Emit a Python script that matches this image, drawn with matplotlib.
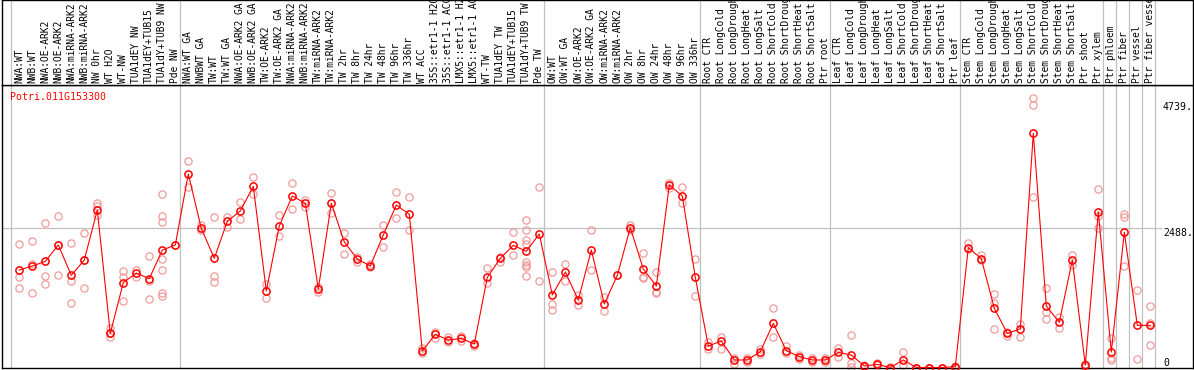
import matplotlib
matplotlib.use("Agg")
import matplotlib.pyplot as plt

gene_id = "Potri.011G153300"

labels = [
    "NWA:WT", "NWB:WT", "NWA:OE-ARK2", "NWB:OE-ARK2", "NWA:miRNA-ARK2", "NWB:miRNA-ARK2",
    "NW 0hr", "WT H2O", "WT-NW", "TUA1dEY NW", "TUA1dEY+TUB15", "TUA1dY+TUB9 NW", "Pde NW",
    "NWA:WT GA", "NWBWT GA", "TW:WT", "TW:WT GA", "NWA:OE-ARK2 GA", "NWB:OE-ARK2 GA",
    "TW:OE-ARK2", "TW:OE-ARK2 GA", "NWA:miRNA-ARK2 GA", "NWB:miRNA-ARK2 GA", "TW:miRNA-ARK2",
    "TW:miRNA-ARK2", "TW 2hr", "TW 8hr", "TW 24hr", "TW 48hr", "TW 96hr", "TW 336hr", "WT ACC",
    "35S::etr1-1 H2O", "35S::etr1-1 ACC", "LMX5::etr1-1 H2O", "LMX5::etr1-1 ACC", "WT-TW",
    "TUA1dEY TW", "TUA1dEY+TUB15", "TUA1dY+TUB9 TW", "Pde TW",
    "OW:WT", "OW:WT GA", "OW:OE-ARK2", "OW:OE-ARK2 GA", "OW:miRNA-ARK2", "OW:miRNA-ARK2",
    "OW 2hr", "OW 8hr", "OW 24hr", "OW 48hr", "OW 96hr", "OW 336hr",
    "Root CTR", "Root LongCold", "Root LongDrought", "Root LongHeat", "Root LongSalt",
    "Root ShortCold", "Root ShortDrought", "Root ShortHeat", "Root ShortSalt", "Ptr root",
    "Leaf CTR", "Leaf LongCold", "Leaf LongDrought", "Leaf LongHeat", "Leaf LongSalt",
    "Leaf ShortCold", "Leaf ShortDrought", "Leaf ShortHeat", "Leaf ShortSalt", "Ptr leaf",
    "Stem CTR", "Stem LongCold", "Stem LongDrought", "Stem LongHeat", "Stem LongSalt",
    "Stem ShortCold", "Stem ShortDrought", "Stem ShortHeat", "Stem ShortSalt", "Ptr shoot",
    "Ptr xylem", "Ptr phloem", "Ptr fiber", "Ptr vessel", "Ptr fiber vessel",
]

means = [
    1739, 1810, 1893, 2185, 1644, 1917, 2809, 609, 1513, 1685, 1584, 2096, 2185,
    3451, 2482, 1947, 2607, 2791, 3231, 1364, 2524, 3059, 2928, 1400, 2928, 2238, 1935,
    1810, 2363, 2898, 2732, 294, 592, 490, 520, 419, 1608, 1947, 2179, 2072, 2381,
    1293, 1703, 1204, 2096, 1133, 1644, 2494, 1757, 1454, 3255, 3059, 1608,
    383, 473, 134, 134, 282, 788, 300, 193, 134, 134,
    270, 223, 27, 56, 0, 134, 0, 0, 0, 15,
    2137, 1941, 1055, 609, 687, 4176, 1097, 806, 1917, 45,
    2779, 276, 2411, 752, 752,
]

replicates = [
    [2203, 1608, 1412], [2256, 1846, 1335], [2571, 1632, 1489], [2702, 1644, 2185],
    [2215, 1549, 1144], [2393, 1412, 1917], [2940, 2880, 2720], [710, 538, 609],
    [1721, 1620, 1186], [1739, 1620], [1989, 1549, 1222],
    [3088, 2702, 2589, 1929, 1739, 1323, 1275], [2185],
    [3683, 3225], [2541, 2452], [2678, 1632, 1531], [2690, 2512], [2946, 2643],
    [3392, 3094], [1483, 1234], [2720, 2345], [3285, 2821], [2987, 2857], [1442, 1341],
    [3106, 2750], [2393, 2024], [1965, 1888], [1846, 1786], [2541, 2143], [3124, 2672],
    [3035, 2452], [342, 253], [639, 520], [550, 461], [562, 479], [443, 383],
    [1769, 1501], [1977, 1888], [2411, 2006],
    [2631, 2452, 2274, 2203, 1888, 1828, 1798, 1632], [3219, 1543],
    [1697, 1127, 1026], [1846, 1549], [1293, 1115], [2452, 1739], [1251, 1008], [1650],
    [2541, 2452], [2036, 1620, 1590], [1697, 1352, 1323], [3297, 3195], [3225, 2940],
    [1929, 1275],
    [461, 324], [550, 324], [163, 62], [163, 104], [324, 235], [1055, 550], [383, 253],
    [223, 146], [163, 104], [163, 104],
    [342, 193], [580, 74, 15], [45, 3], [74, 39], [15, 0], [282, 45], [0, 0], [0, 0],
    [0, 0], [27, 0],
    [2215, 2108], [2006, 1917], [1311, 1156, 687], [639, 562], [770, 538],
    [4801, 4682, 3035], [1412, 996, 859], [907, 699], [2006, 1828], [62, 15],
    [3178, 2702, 2482], [520, 163, 134], [2738, 2678, 1810], [1382, 146], [1097, 800, 395],
]

group_starts = [0, 13, 41, 53, 63, 73, 84, 85, 86, 87, 88]
tick_values = [4739, 2488, 0]
tick_texts = ["4739.", "2488.", "0"]

W, H = 1194, 370
fig = plt.figure(figsize=(W / 100, H / 100), dpi=100)

x_left_px, x_right_px = 2, 1193
y_top_px, y_head_px, y_bot_px = 0, 85, 368
col0_px, col_step = 19.3, 13.0

def fx(p):
    return p / W

def fy(p):
    return 1 - p / H

ax = fig.add_axes([fx(x_left_px), fy(y_bot_px), (x_right_px - x_left_px) / W,
                   (y_bot_px - y_head_px) / H])
axh = fig.add_axes([fx(x_left_px), fy(y_head_px), (x_right_px - x_left_px) / W,
                    (y_head_px - y_top_px) / H])

xlim = ((x_left_px - col0_px) / col_step, (x_right_px - col0_px) / col_step)
zero_px = 367.5
scale = 0.05607
ylim = ((zero_px - y_bot_px) / scale, (zero_px - y_head_px) / scale)

for a in (ax, axh):
    a.set_xlim(*xlim)
    a.set_xticks([])
    a.set_yticks([])
    for s in a.spines.values():
        s.set_color("black")
        s.set_linewidth(1.0)
ax.set_ylim(*ylim)
axh.set_ylim(0, 1)

grid_c = "#c0c0c0"
for g in group_starts:
    xs = g - 0.64
    ax.axvline(xs, color=grid_c, lw=0.9, zorder=1)
    axh.axvline(xs, color=grid_c, lw=0.9, zorder=1)

# horizontal gridline at mid tick
end_frac = (1161 - x_left_px) / (x_right_px - x_left_px)
ax.axhline(tick_values[1], xmin=0, xmax=end_frac, color=grid_c, lw=0.9, zorder=1)

mono = "DejaVu Sans Mono"
xs_all = list(range(len(labels)))

for i, lab in enumerate(labels):
    axh.text(i, 2 / 85, lab, rotation=90, ha="center", va="bottom", fontsize=6.9,
             family=mono, color="black", clip_on=True)

rep_x = []
rep_y = []
for i, reps in enumerate(replicates):
    for r in reps:
        rep_x.append(i)
        rep_y.append(r)
ax.plot(rep_x, rep_y, linestyle="none", marker="o", markersize=5.2, markerfacecolor="none",
        markeredgecolor="#f09a9a", markeredgewidth=0.9, zorder=2, clip_on=False)
ax.plot(xs_all, means, color="#ff0000", lw=0.8, zorder=3)
ax.plot(xs_all, means, linestyle="none", marker="o", markersize=5.2, markerfacecolor="none",
        markeredgecolor="#ff0000", markeredgewidth=1.1, zorder=4, clip_on=False)

ax.text((10 - col0_px) / col_step, (zero_px - 92) / scale, gene_id, color="#ff0000",
        fontsize=7.1, family=mono, ha="left", va="top")

for v, t in zip(tick_values, tick_texts):
    ypx = zero_px - v * scale
    ypx = min(ypx, 358.5)
    ax.text((1163 - col0_px) / col_step, (zero_px - ypx) / scale, t, color="black",
            fontsize=7.1, family=mono, ha="left", va="top")

fig.savefig("out.png", dpi=100)
